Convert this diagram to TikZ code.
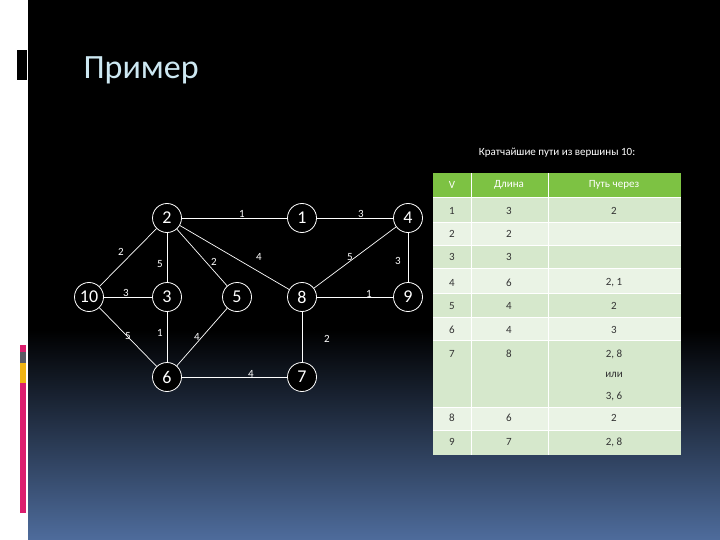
\documentclass[tikz,border=0pt]{standalone}
\usepackage{fontspec}
\setmainfont{Carlito}
\definecolor{bgblue}{RGB}{78,108,156}
\definecolor{pinkc}{RGB}{220,30,110}
\definecolor{greyc}{RGB}{90,90,100}
\definecolor{yelc}{RGB}{240,180,20}
\definecolor{titlec}{RGB}{205,232,242}
\definecolor{hdr}{RGB}{125,194,67}
\definecolor{rowa}{RGB}{214,232,204}
\definecolor{rowb}{RGB}{234,243,229}
\begin{document}
\begin{tikzpicture}[x=1pt,y=-1pt,
 vtx/.style={circle,draw=white,line width=0.8pt,fill=black,text=white,minimum size=29pt,inner sep=0pt,font=\fontsize{18}{20}\selectfont},
 edge/.style={draw=white,line width=0.7pt},
 wl/.style={text=white,font=\fontsize{11}{12}\selectfont,inner sep=0pt},
 cell/.style={font=\fontsize{11}{13}\selectfont,text=black!80,inner sep=0pt}]
\useasboundingbox (0,0) rectangle (720,540);
\fill[white] (0,0) rectangle (28,540);
\fill[black] (28,0) rectangle (720,330);
\shade[top color=black,bottom color=bgblue] (28,330) rectangle (720,540);
\fill[black] (17,50) rectangle (27,80);
\fill[pinkc] (20,345) rectangle (26,352);
\fill[greyc] (20,352) rectangle (26,363);
\fill[yelc] (20,363) rectangle (26,383);
\fill[pinkc] (20,383) rectangle (26,513);
\node[anchor=west,text=titlec,font=\fontsize{34}{36}\selectfont] (title) at (80,70) {Пример};
\node[text=white,font=\fontsize{11}{12}\selectfont] (sub) at (557,153) {Кратчайшие пути из вершины 10:};
% graph
\node[vtx] (n2) at (167,218) {2};
\node[vtx] (n1) at (302,218) {1};
\node[vtx] (n4) at (408,218) {4};
\node[vtx] (n10) at (89,297) {10};
\node[vtx] (n3) at (167,297) {3};
\node[vtx] (n5) at (237,297) {5};
\node[vtx] (n8) at (302,297) {8};
\node[vtx] (n9) at (408,297) {9};
\node[vtx] (n6) at (167,377) {6};
\node[vtx] (n7) at (302,377) {7};
\draw[edge] (n2)--(n1); \draw[edge] (n1)--(n4);
\draw[edge] (n2)--(n10); \draw[edge] (n2)--(n3);
\draw[edge] (n2)--(n5); \draw[edge] (n2)--(n8);
\draw[edge] (n4)--(n8); \draw[edge] (n4)--(n9);
\draw[edge] (n10)--(n3); \draw[edge] (n8)--(n9);
\draw[edge] (n10)--(n6); \draw[edge] (n3)--(n6);
\draw[edge] (n5)--(n6); \draw[edge] (n8)--(n7);
\draw[edge] (n6)--(n7);
\node[wl] (w1) at (242,214) {1};
\node[wl] (w2) at (361,214) {3};
\node[wl] (w3) at (121,252) {2};
\node[wl] (w4) at (160,264) {5};
\node[wl] (w5) at (214,262) {2};
\node[wl] (w6) at (259,257) {4};
\node[wl] (w7) at (350,257) {5};
\node[wl] (w8) at (398,261) {3};
\node[wl] (w9) at (126,293) {3};
\node[wl] (w10) at (369,294) {1};
\node[wl] (w11) at (128,336) {5};
\node[wl] (w12) at (160,333) {1};
\node[wl] (w13) at (197,337) {4};
\node[wl] (w14) at (327,339) {2};
\node[wl] (w15) at (251,374) {4};
% table
\fill[hdr] (433,173) rectangle (681,197);
\foreach \a/\b/\c in {197/222/rowa,222/245/rowb,245/268/rowa,268/293/rowb,293/317/rowa,317/340/rowb,340/407/rowa,407/430/rowb,430/455/rowa}{
 \fill[\c] (433,\a) rectangle (681,\b);
 \draw[white,line width=0.8pt] (433,\a)--(681,\a);}
\draw[white,line width=0.8pt] (471,173)--(471,455) (548,173)--(548,455);
\node[cell,text=white] (h1) at (452,185) {V};
\node[cell,text=white] (h2) at (509,185) {Длина};
\node[cell,text=white] (h3) at (614,185) {Путь через};
\foreach \y/\v/\d/\p in {211/1/3/2,234/2/2/,257/3/3/,283/4/6/{2, 1},306/5/4/2,330/6/4/3,354/7/8/{2, 8},418/8/6/2,442/9/7/{2, 8}}{
 \node[cell] at (452,\y) {\v};
 \node[cell] at (509,\y) {\d};
 \node[cell] at (614,\y) {\p};}
\node[cell] (ili) at (614,375) {или};
\node[cell] (p36) at (614,396) {3, 6};
\end{tikzpicture}
\end{document}
